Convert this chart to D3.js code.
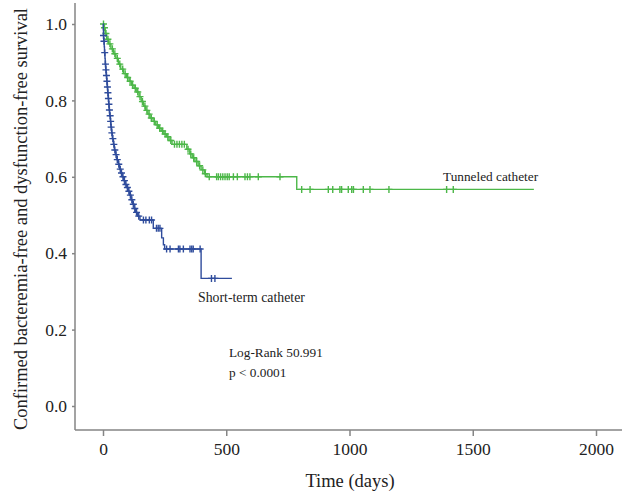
<!DOCTYPE html>
<html>
<head>
<meta charset="utf-8">
<script src="https://cdn.jsdelivr.net/npm/d3@7"></script>
<style>
  body { margin: 0; background: #fff; }
  text { font-family: "Liberation Serif", "DejaVu Serif", serif; fill: #222; }
</style>
</head>
<body>
<div id="canvas"></div>
<script>
"use strict"

/* Kaplan-Meier steps: [time in days, survival after step] */
let tunneledSteps = [
  [0, 1.0], [4, 0.99], [9, 0.975], [15, 0.96], [22, 0.948], [32, 0.935], [42, 0.922],
  [52, 0.91], [62, 0.895], [72, 0.882], [84, 0.87], [96, 0.86], [106, 0.85], [116, 0.84],
  [126, 0.832], [137, 0.822], [146, 0.81], [155, 0.797], [164, 0.785], [173, 0.774],
  [182, 0.764], [191, 0.754], [203, 0.745], [214, 0.736], [225, 0.727], [236, 0.72],
  [247, 0.712], [258, 0.705], [268, 0.695], [280, 0.685], [340, 0.672], [352, 0.66],
  [362, 0.65], [373, 0.64], [386, 0.629], [398, 0.618], [412, 0.608], [422, 0.6],
  [786, 0.567], [1748, 0.567]
];
let tunneledCensored = [
  2, 6, 12, 20, 28, 38, 48, 58, 68, 80, 90, 100, 110, 120, 131, 141, 150, 160, 170, 178,
  187, 196, 208, 220, 230, 242, 252, 263, 275, 290, 300, 310, 320, 330, 345, 356, 368,
  380, 392, 405, 415, 431, 461, 468, 477, 486, 495, 504, 512, 529, 545, 576, 586, 596,
  630, 718, 806, 840, 914, 932, 961, 968, 995, 1009, 1016, 1056, 1083, 1160, 1394, 1421
];

let shortTermSteps = [
  [0, 1.0], [1, 0.985], [2, 0.97], [3, 0.955], [5, 0.94], [6, 0.925], [8, 0.91], [9, 0.895],
  [11, 0.88], [13, 0.865], [15, 0.85], [17, 0.835], [19, 0.82], [21, 0.805], [23, 0.79],
  [25, 0.775], [27, 0.76], [30, 0.745], [32, 0.73], [35, 0.715], [38, 0.7], [42, 0.685],
  [46, 0.67], [51, 0.658], [56, 0.645], [62, 0.633], [67, 0.62], [72, 0.61], [78, 0.6],
  [84, 0.59], [90, 0.58], [96, 0.572], [102, 0.562], [108, 0.552], [114, 0.54],
  [120, 0.528], [126, 0.517], [132, 0.507], [140, 0.497], [150, 0.487], [204, 0.465],
  [238, 0.44], [245, 0.422], [250, 0.411], [398, 0.334], [523, 0.334]
];
let shortTermCensored = [
  2, 4, 7, 10, 12, 14, 16, 18, 20, 22, 24, 26, 29, 31, 33, 36, 40, 44, 48, 53, 58, 64, 70,
  75, 81, 87, 93, 99, 105, 111, 117, 123, 129, 136, 145, 164, 174, 188, 197, 217, 224,
  231, 258, 272, 306, 312, 326, 353, 360, 366, 394, 440, 454
];

let xTicks = [0, 500, 1000, 1500, 2000];
let yTicks = [0, 0.2, 0.4, 0.6, 0.8, 1.0];

let drawing = d3.select("#canvas")
    .append("svg")
    .attr("width", 622)
    .attr("height", 494);

let x = d3.scaleLinear().domain([0, 2000]).range([103, 596]);
let y = d3.scaleLinear().domain([0, 1]).range([406, 24]);

let axisColor = "#858585";

/* axes */
let xAxis = drawing.append("g")
    .attr("transform", "translate(0,430)")
    .call(d3.axisBottom(x).tickValues(xTicks).tickSize(6).tickPadding(7).tickFormat(d3.format("d")));
xAxis.select(".domain").remove();
xAxis.selectAll("line").attr("stroke", axisColor).attr("stroke-width", 1.5);
xAxis.selectAll("text").attr("font-size", 17.5).attr("font-family", "Liberation Serif").attr("fill", "#222");

let yAxis = drawing.append("g")
    .attr("transform", "translate(75,0)")
    .call(d3.axisLeft(y).tickValues(yTicks).tickSize(3).tickPadding(5).tickFormat(d3.format(".1f")));
yAxis.select(".domain").remove();
yAxis.selectAll("line").attr("stroke", axisColor).attr("stroke-width", 1.5);
yAxis.selectAll("text").attr("font-size", 17.5).attr("font-family", "Liberation Serif").attr("fill", "#222");

drawing.append("line")
    .attr("x1", 75).attr("y1", 3).attr("x2", 75).attr("y2", 430)
    .attr("stroke", axisColor).attr("stroke-width", 1.5);
drawing.append("line")
    .attr("x1", 75).attr("y1", 430).attr("x2", 622).attr("y2", 430)
    .attr("stroke", axisColor).attr("stroke-width", 1.5);

/* survival curves */
let stepLine = d3.line()
    .x(d => x(d[0]))
    .y(d => y(d[1]))
    .curve(d3.curveStepAfter);

function survivalAt(steps, t) {
  let s = steps[0][1];
  for (let p of steps) { if (p[0] <= t) s = p[1]; }
  return s;
}

function drawCurve(steps, censored, color) {
  drawing.append("path")
    .attr("d", stepLine(steps))
    .attr("fill", "none")
    .attr("stroke", color)
    .attr("stroke-width", 1.4);
  drawing.append("g").selectAll("path")
    .data(censored)
    .join("path")
    .attr("d", t => {
      let cx = x(t), cy = y(survivalAt(steps, t));
      return `M${cx - 3.5},${cy}H${cx + 3.5}M${cx},${cy - 3.5}V${cy + 3.5}`;
    })
    .attr("stroke", color)
    .attr("stroke-width", 1.4)
    .attr("fill", "none");
}

drawCurve(tunneledSteps, tunneledCensored, "#4cb748");
drawCurve(shortTermSteps, shortTermCensored, "#2f4c9c");

/* labels */
drawing.append("text")
    .attr("x", 443).attr("y", 181)
    .attr("font-size", 13.3)
    .text("Tunneled catheter");

drawing.append("text")
    .attr("x", 198).attr("y", 302)
    .attr("font-size", 13.8)
    .text("Short-term catheter");

drawing.append("text")
    .attr("x", 229).attr("y", 357)
    .attr("font-size", 13.3)
    .text("Log-Rank 50.991");

drawing.append("text")
    .attr("x", 229).attr("y", 377)
    .attr("font-size", 13.3)
    .text("p < 0.0001");

drawing.append("text")
    .attr("x", 350).attr("y", 487)
    .attr("text-anchor", "middle")
    .attr("font-size", 18.5)
    .text("Time (days)");

drawing.append("text")
    .attr("transform", "translate(27,219) rotate(-90)")
    .attr("text-anchor", "middle")
    .attr("font-size", 18)
    .attr("textLength", 422)
    .attr("lengthAdjust", "spacingAndGlyphs")
    .text("Confirmed bacteremia-free and dysfunction-free survival");
</script>
</body>
</html>
